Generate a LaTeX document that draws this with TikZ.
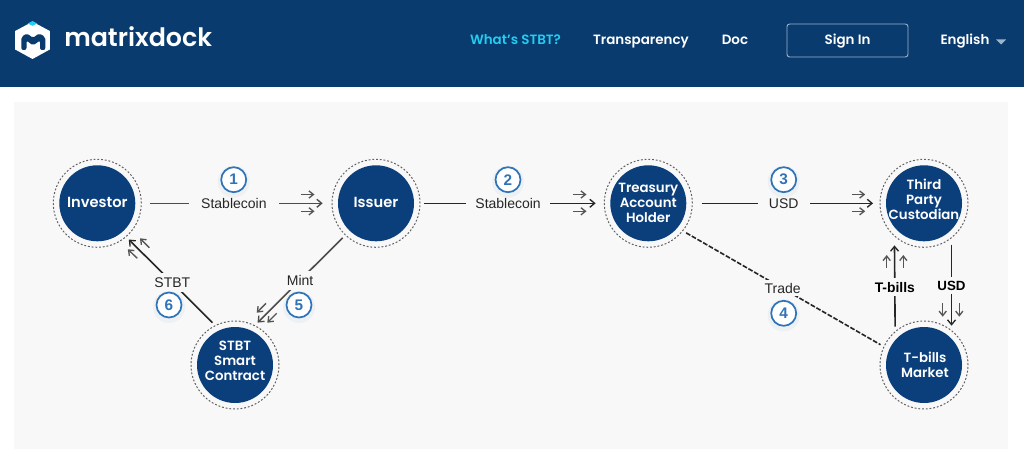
\documentclass[tikz,border=0pt]{standalone}
\usepackage{fontspec}
\setmainfont{Poppins}[BoldFont={Poppins SemiBold}]
\newfontfamily\labelfont{Liberation Sans}
\definecolor{navy}{HTML}{0A3B6E}
\definecolor{hubblue}{HTML}{0B3F7C}
\definecolor{panel}{HTML}{F8F8F8}
\definecolor{cyanlink}{HTML}{22CDF2}
\definecolor{numblue}{HTML}{2F74B8}
\definecolor{ink}{HTML}{262626}
\definecolor{tiny}{HTML}{555555}
\definecolor{btn}{HTML}{9DB4CC}
\usetikzlibrary{arrows.meta}
\tikzset{
  hub/.style={circle,fill=hubblue,minimum size=76*0.75pt,inner sep=0pt,outer sep=7.5pt},
  hubtext/.style={text=white,align=center,inner sep=0pt,font=\bfseries\fontsize{10}{11.2}\selectfont},
  ring/.style={draw=black!62,line width=0.75pt,dash pattern=on 1.4pt off 1.4pt},
  conn/.style={draw=ink,line width=1.2pt},
  arrowconn/.style={conn,-{Straight Barb[length=3.6pt,width=6pt,line width=1pt]}},
  tinyarrow/.style={draw=tiny,line width=1pt,-{Straight Barb[length=3.4pt,width=5.4pt,line width=1pt]}},
  edgelabel/.style={fill=panel,text=ink,font=\labelfont\fontsize{10.5}{12}\selectfont,inner sep=0pt,minimum height=14pt},
  boldlabel/.style={edgelabel,text=black,font=\labelfont\bfseries\fontsize{10.4}{12}\selectfont},
  numbadge/.style={circle,draw=numblue,line width=1.3pt,fill=white,text=numblue,minimum size=25*0.75pt,inner sep=0pt,font=\labelfont\bfseries\fontsize{11.5}{12}\selectfont},
  navitem/.style={text=white,font=\bfseries\fontsize{10.1}{12}\selectfont,inner sep=0pt,anchor=base}
}
\begin{document}
\begin{tikzpicture}[x=0.75pt,y=-0.75pt]
\useasboundingbox (0,0) rectangle (1024,449);
\fill[white] (0,0) rectangle (1024,449);
\fill[navy] (0,0) rectangle (1024,87);
\fill[panel] (14,102) rectangle (1008,449);
% logo
\fill[white] (32.5,21.7) -- (49.8,31) -- (49.8,49.5) -- (32.5,59) -- (15.2,49.5) -- (15.2,31) -- cycle;
\fill[cyanlink] (32.5,21) -- (37.3,23.5) -- (32.5,25.8) -- (27.7,23.5) -- cycle;
\fill[navy,rounded corners=1.5pt] (21.3,50) -- (21.3,37) -- (27,33.3) -- (33,38) -- (39,33.3) -- (45.3,37) -- (45.3,50) -- (40,50) -- (40,40.5) -- (33,45.5) -- (26.5,40.5) -- (26.5,50) -- cycle;
\node[anchor=base west,text=white,font=\bfseries\fontsize{19}{22}\selectfont,inner sep=0pt] (brand) at (64,46.7) {matrixdock};
% nav
\node[navitem,text=cyanlink] (whatstbt) at (515.5,45) {What's STBT?};
\node[navitem] (transparency) at (641,45) {Transparency};
\node[navitem] (doc) at (735,45) {Doc};
\node[draw=btn,line width=0.7pt,rounded corners=2pt,minimum width=121*0.75pt,minimum height=33*0.75pt,inner sep=0pt] (signin) at (847.5,40.5) {};
\node[navitem] (signintext) at (847.5,45) {Sign In};
\node[navitem] (english) at (965,45) {English};
\fill[btn] (996,39.5) -- (1006,39.5) -- (1001,44.5) -- cycle;
% hubs
\foreach \n/\p/\q/\t in {
  investor/{97.3,203.3}/{97.3,202.3}/{\fontsize{11}{12}\selectfont Investor},
  issuer/{376,203.3}/{376,202.3}/{\fontsize{11}{12}\selectfont Issuer},
  treasury/{648.3,203.3}/{648.3,203}/{Treasury\\Account\\Holder},
  custodian/{924,203.3}/{924,199.5}/{Third\\Party\\Custodian},
  market/{924,365}/{925,365}/{T-bills\\Market},
  contract/{235,365}/{235,361}/{STBT\\Smart\\Contract}}{
  \node[hub] (\n) at (\p) {};
  \draw[ring] (\n.center) circle [radius=33pt];
  \node[hubtext] (\n text) at (\q) {\t};
}
% connectors
\draw[arrowconn,draw=black!70,shorten <=3.5pt,shorten >=4pt] (investor.east) -- (issuer.west) node[pos=0.485,edgelabel,minimum width=67.5pt] (lab1) {Stablecoin};
\draw[arrowconn,shorten >=3.5pt] (issuer.east) -- (treasury.west) node[pos=0.477,edgelabel,minimum width=63pt] (lab2) {Stablecoin};
\draw[arrowconn,shorten <=4pt,shorten >=2.2pt] (treasury.east) -- (custodian.west) node[pos=0.4866,edgelabel,minimum width=39pt] (lab3) {USD};
\draw[conn,dash pattern=on 3.6pt off 1.3pt] (treasury.-38.5) -- (market.155) node[pos=0.497,edgelabel,minimum width=30pt,minimum height=12pt] (lab4) {Trade};
\draw[arrowconn,shorten >=3.2pt] (market.127.2) -- (custodian.232.8) node[pos=0.463,boldlabel] (tb) {T-bills};
\draw[arrowconn,shorten <=1.5pt] (custodian.-55.3) -- (market.55.3) node[pos=0.52,boldlabel,font=\labelfont\bfseries\fontsize{10}{12}\selectfont,minimum height=13pt] (usd2) {USD};
\draw[arrowconn] (contract.118) -- (investor.-49) node[pos=0.48,edgelabel,minimum width=30pt] (stbt) {STBT};
\draw[arrowconn,draw=black!70] (issuer.226) -- (contract.62.5) node[pos=0.5,edgelabel,minimum width=28pt] (mint) {Mint};
% tiny arrows
\foreach \y in {194.5,211.3}{
  \draw[tinyarrow] (301,\y) -- (314.5,\y);
  \draw[tinyarrow] (573,\y) -- (586.5,\y);
  \draw[tinyarrow] (851.7,\y) -- (865.2,\y);
}
\foreach \x in {886.7,903.3}{\draw[tinyarrow] (\x,268) -- (\x,255);}
\foreach \x in {942.7,959.3}{\draw[tinyarrow] (\x,303.3) -- (\x,316.7);}
\draw[tinyarrow] (149.3,247.7) -- (140,238.3);
\draw[tinyarrow] (137.3,258.3) -- (127.8,249.3);
\draw[tinyarrow] (266,303.3) -- (256.7,312.7);
\draw[tinyarrow] (276.7,313.3) -- (267.3,322.7);
% badges
\foreach \n/\p/\t in {b1/{233.7,179.7}/1,b2/{508,179.7}/2,b3/{783.7,179.7}/3,b4/{783.7,313.3}/4,b5/{299,305}/5,b6/{169,305}/6}{
  \fill[numblue,opacity=0.05] (\p) ++(0,2) circle [radius=12pt];
  \node[numbadge] (\n) at (\p) {\t};
}
\end{tikzpicture}
\end{document}
